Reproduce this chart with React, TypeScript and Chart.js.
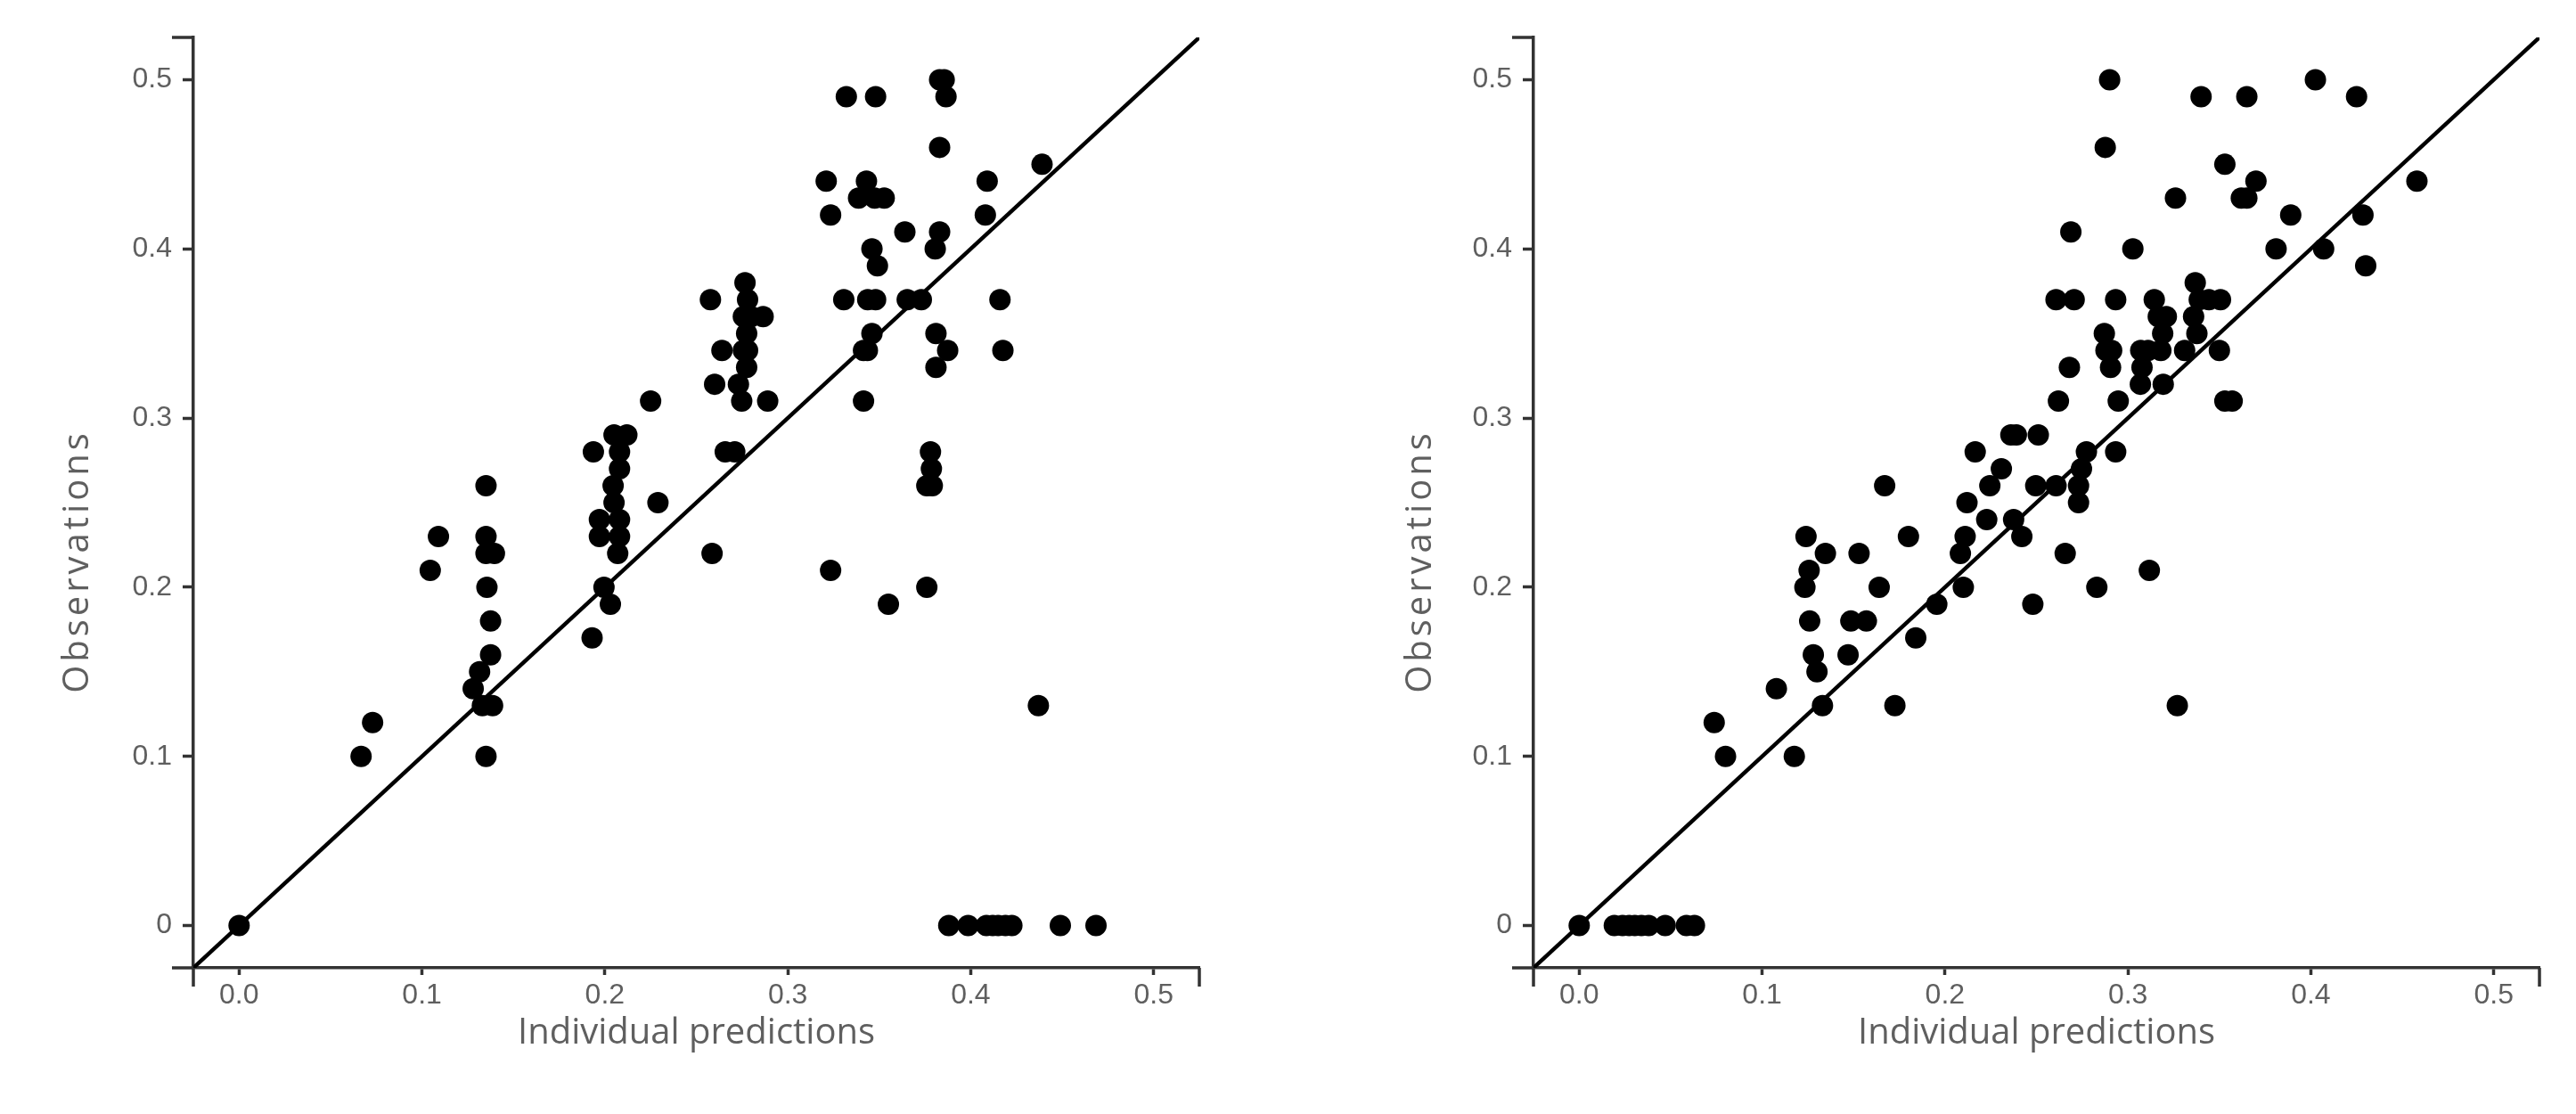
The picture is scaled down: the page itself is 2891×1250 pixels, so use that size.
import React, { useEffect, useRef } from "react";
import { Chart, registerables } from "chart.js";

Chart.register(...registerables);

// ---- data & labels ----
const X_TICKS = [0, 0.1, 0.2, 0.3, 0.4, 0.5];
const Y_TICKS = [0, 0.1, 0.2, 0.3, 0.4, 0.5];
const AXIS_MIN = -0.025;
const AXIS_MAX = 0.525;
const X_TITLE = "Individual predictions";
const Y_TITLE = "Observations";

const LEFT_PRED = [
  0, 0.388, 0.3986, 0.4086, 0.412, 0.415, 0.419, 0.4225, 0.449, 0.4685,
  0.0667, 0.073, 0.1045, 0.109,
  0.135, 0.135, 0.135, 0.1396, 0.1355, 0.1375, 0.1375, 0.1315, 0.128, 0.133, 0.1386, 0.135,
  0.1937, 0.197, 0.197, 0.1995, 0.203, 0.193, 0.205, 0.212, 0.208, 0.208, 0.2045, 0.205, 0.208, 0.208, 0.207, 0.225, 0.229,
  0.2577, 0.26, 0.264, 0.2586, 0.2658, 0.271, 0.273, 0.2748, 0.2766, 0.278, 0.2757, 0.28, 0.2865, 0.2775, 0.2757, 0.278, 0.2775, 0.289,
  0.321, 0.3234, 0.332, 0.348, 0.3306, 0.3387, 0.343, 0.3475, 0.3527, 0.346, 0.349, 0.3437, 0.348, 0.346, 0.3414, 0.3435, 0.3414, 0.364, 0.3653, 0.373, 0.3234, 0.355, 0.376,
  0.383, 0.3855, 0.3865, 0.383, 0.383, 0.3806, 0.381, 0.3874, 0.381, 0.378, 0.3785, 0.376, 0.379,
  0.408, 0.409, 0.416, 0.4176, 0.439, 0.437,
];
const LEFT_OBS = [
  0, 0, 0, 0, 0, 0, 0, 0, 0, 0,
  0.1, 0.12, 0.21, 0.23,
  0.26, 0.23, 0.22, 0.22, 0.2, 0.18, 0.16, 0.15, 0.14, 0.13, 0.13, 0.1,
  0.28, 0.24, 0.23, 0.2, 0.19, 0.17, 0.29, 0.29, 0.28, 0.27, 0.26, 0.25, 0.24, 0.23, 0.22, 0.31, 0.25,
  0.37, 0.32, 0.34, 0.22, 0.28, 0.28, 0.32, 0.31, 0.38, 0.37, 0.36, 0.36, 0.36, 0.35, 0.34, 0.34, 0.33, 0.31,
  0.44, 0.42, 0.49, 0.49, 0.37, 0.43, 0.44, 0.43, 0.43, 0.4, 0.39, 0.37, 0.37, 0.35, 0.34, 0.34, 0.31, 0.41, 0.37, 0.37, 0.21, 0.19, 0.2,
  0.5, 0.5, 0.49, 0.46, 0.41, 0.4, 0.35, 0.34, 0.33, 0.28, 0.27, 0.26, 0.26,
  0.42, 0.44, 0.37, 0.34, 0.45, 0.13,
];

const RIGHT_PRED = [
  0, 0.0192, 0.0237, 0.0273, 0.0304, 0.034, 0.038, 0.047, 0.0586, 0.063,
  0.0738, 0.08, 0.1078, 0.1176,
  0.124, 0.1257, 0.1234, 0.126, 0.128, 0.13, 0.133, 0.1346,
  0.147, 0.1485, 0.157, 0.153, 0.164, 0.167, 0.1726, 0.18, 0.184, 0.1955,
  0.2084, 0.211, 0.212, 0.21, 0.2165, 0.2228, 0.2245, 0.2308, 0.236, 0.239, 0.2375, 0.242, 0.248, 0.251, 0.2496, 0.2607, 0.262, 0.2607, 0.2657, 0.268, 0.2688, 0.2706, 0.273, 0.273, 0.2746, 0.2773, 0.283,
  0.2876, 0.29, 0.2871, 0.288, 0.2911, 0.2905, 0.2933, 0.2947, 0.2933, 0.3027, 0.307, 0.3077, 0.3068, 0.311, 0.3144, 0.3166, 0.319, 0.3193, 0.321, 0.318, 0.3117, 0.326, 0.327, 0.331,
  0.3368, 0.3359, 0.3377, 0.339, 0.34, 0.3443, 0.3506, 0.35, 0.353, 0.353, 0.357, 0.362, 0.365, 0.365, 0.37, 0.381, 0.389, 0.4025, 0.407, 0.425, 0.4285, 0.43, 0.458,
];
const RIGHT_OBS = [
  0, 0, 0, 0, 0, 0, 0, 0, 0, 0,
  0.12, 0.1, 0.14, 0.1,
  0.23, 0.21, 0.2, 0.18, 0.16, 0.15, 0.13, 0.22,
  0.16, 0.18, 0.18, 0.22, 0.2, 0.26, 0.13, 0.23, 0.17, 0.19,
  0.22, 0.23, 0.25, 0.2, 0.28, 0.24, 0.26, 0.27, 0.29, 0.29, 0.24, 0.23, 0.19, 0.29, 0.26, 0.26, 0.31, 0.37, 0.22, 0.33, 0.41, 0.37, 0.26, 0.25, 0.27, 0.28, 0.2,
  0.46, 0.5, 0.35, 0.34, 0.34, 0.33, 0.37, 0.31, 0.28, 0.4, 0.34, 0.33, 0.32, 0.34, 0.37, 0.36, 0.35, 0.32, 0.36, 0.34, 0.21, 0.43, 0.13, 0.34,
  0.38, 0.36, 0.35, 0.37, 0.49, 0.37, 0.37, 0.34, 0.45, 0.31, 0.31, 0.43, 0.43, 0.49, 0.44, 0.4, 0.42, 0.5, 0.4, 0.49, 0.42, 0.39, 0.44,
];

// ---- layout (page pixels) ----
const CANVAS_H = 1250;
const AREA_TOP = 42;
const AREA_BOTTOM = 1086;
const X_TITLE_Y = 1160;
const Y_TITLE_Y = 632;
const AXIS_COLOR = "#333";
const TEXT_COLOR = "#5f5f5f";

type PanelProps = {
  pred: number[];
  obs: number[];
  left: number;
  width: number;
  areaLeft: number;
  areaRight: number;
  yTitleX: number;
};

function Panel({ pred, obs, left, width, areaLeft, areaRight, yTitleX }: PanelProps) {
  const ref = useRef<HTMLCanvasElement | null>(null);

  useEffect(() => {
    const canvas = ref.current;
    if (!canvas) return;

    const decor = {
      id: "decor",
      afterDraw(chart: any) {
        const ctx = chart.ctx;
        const { left: l, right: r, top: t, bottom: b } = chart.chartArea;
        ctx.save();
        ctx.strokeStyle = AXIS_COLOR;
        ctx.lineWidth = 3.5;
        ctx.beginPath();
        ctx.moveTo(l - 24, t);
        ctx.lineTo(l, t);
        ctx.moveTo(l - 24, b);
        ctx.lineTo(l, b);
        ctx.moveTo(l, b);
        ctx.lineTo(l, b + 21);
        ctx.moveTo(r, b);
        ctx.lineTo(r, b + 21);
        ctx.stroke();

        ctx.fillStyle = TEXT_COLOR;
        ctx.font = '40px "Open Sans"';
        ctx.textAlign = "center";
        ctx.textBaseline = "middle";
        ctx.fillText(X_TITLE, (l + r) / 2, X_TITLE_Y);

        ctx.translate(yTitleX, Y_TITLE_Y);
        ctx.rotate(-Math.PI / 2);
        try {
          (ctx as any).letterSpacing = "4px";
        } catch (e) {}
        ctx.fillText(Y_TITLE, 2, 0);
        ctx.restore();
      },
    };

    const chart = new Chart(canvas, {
      type: "scatter",
      data: {
        datasets: [
          {
            data: pred.map((x, i) => ({ x, y: obs[i] })),
            backgroundColor: "#000",
            borderWidth: 0,
            pointRadius: 12,
            pointHoverRadius: 12,
            order: 1,
          } as any,
          {
            data: [
              { x: AXIS_MIN, y: AXIS_MIN },
              { x: AXIS_MAX, y: AXIS_MAX },
            ],
            showLine: true,
            borderColor: "#000",
            borderWidth: 4.5,
            pointRadius: 0,
            order: 2,
          } as any,
        ],
      },
      options: {
        animation: false,
        responsive: false,
        devicePixelRatio: 1,
        layout: {
          padding: { top: AREA_TOP, left: 0, right: width - areaRight, bottom: 0 },
        },
        plugins: {
          legend: { display: false },
          tooltip: { enabled: false },
        },
        scales: {
          x: {
            type: "linear",
            min: AXIS_MIN,
            max: AXIS_MAX,
            afterBuildTicks: (s: any) => {
              s.ticks = X_TICKS.map((value) => ({ value }));
            },
            afterFit: (s: any) => {
              s.height = CANVAS_H - AREA_BOTTOM;
            },
            ticks: {
              callback: (v: any) => Number(v).toFixed(1),
              color: TEXT_COLOR,
              font: { family: '"Liberation Sans", Arial, sans-serif', size: 32 },
              padding: 4,
              maxRotation: 0,
              autoSkip: false,
            },
            grid: {
              drawOnChartArea: false,
              drawTicks: true,
              tickLength: 8,
              tickColor: AXIS_COLOR,
              tickWidth: 3.5,
            },
            border: { display: true, color: AXIS_COLOR, width: 3.5 },
          },
          y: {
            type: "linear",
            min: AXIS_MIN,
            max: AXIS_MAX,
            afterBuildTicks: (s: any) => {
              s.ticks = Y_TICKS.map((value) => ({ value }));
            },
            afterFit: (s: any) => {
              s.width = areaLeft;
            },
            ticks: {
              callback: (v: any) => (Number(v) === 0 ? "0" : Number(v).toFixed(1)),
              color: TEXT_COLOR,
              font: { family: '"Liberation Sans", Arial, sans-serif', size: 32 },
              padding: 12,
              autoSkip: false,
            },
            grid: {
              drawOnChartArea: false,
              drawTicks: true,
              tickLength: 12,
              tickColor: AXIS_COLOR,
              tickWidth: 3.5,
            },
            border: { display: true, color: AXIS_COLOR, width: 3.5 },
          },
        },
      } as any,
      plugins: [decor],
    });

    return () => chart.destroy();
  }, [pred, obs, left, width, areaLeft, areaRight, yTitleX]);

  return (
    <canvas
      ref={ref}
      width={width}
      height={CANVAS_H}
      style={{ position: "absolute", left, top: 0, width, height: CANVAS_H }}
    />
  );
}

export default function App() {
  return (
    <div
      style={{
        position: "absolute",
        left: 0,
        top: 0,
        width: 2891,
        height: CANVAS_H,
        background: "#fff",
        overflow: "hidden",
      }}
    >
      <Panel pred={LEFT_PRED} obs={LEFT_OBS} left={0} width={1445} areaLeft={217} areaRight={1346} yTitleX={88} />
      <Panel pred={RIGHT_PRED} obs={RIGHT_OBS} left={1445} width={1446} areaLeft={276} areaRight={1405} yTitleX={150} />
    </div>
  );
}
